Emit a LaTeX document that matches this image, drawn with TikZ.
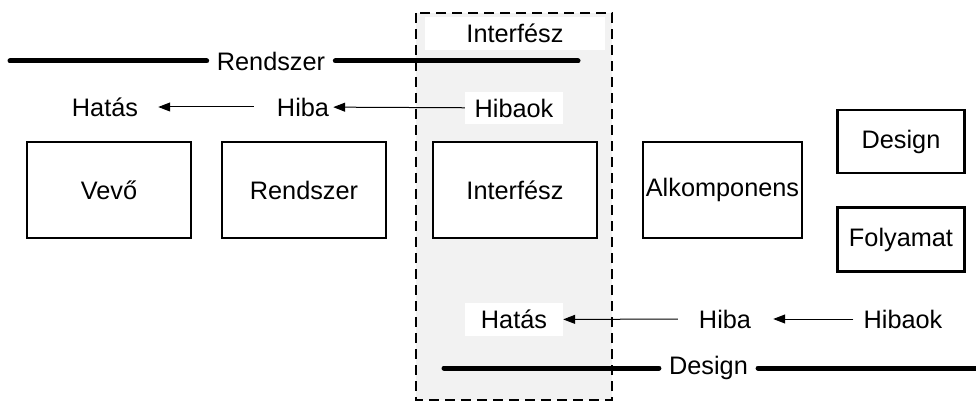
\documentclass[tikz,border=0pt]{standalone}
\usepackage{fontspec}
\setmainfont{Liberation Sans}
\usetikzlibrary{arrows.meta}
\begin{document}
\begin{tikzpicture}[x=1pt,y=-1pt,
  every node/.style={font=\fontsize{25.3}{28}\selectfont, inner sep=0pt},
  box/.style={draw, fill=white, line width=2.4pt, anchor=center},
  lbl/.style={},
  wlbl/.style={fill=white, anchor=center},
  heavy/.style={line width=5pt, line cap=round},
  arr/.style={line width=1pt, -{Triangle[length=12pt,width=9pt]}},
  region/.style={draw, fill=gray!10, line width=2.6pt, dash pattern=on 10pt off 6pt}
]
\useasboundingbox (0,0) rectangle (976,403);
% dashed interface region
\draw[region] (416,13) rectangle (612,400);
\node[wlbl, minimum width=180pt, minimum height=33pt] (itop) at (515,33.5) {Interfész};

% Rendszer line
\coordinate (rs1) at (10,61);
\coordinate (rs2) at (578,61);
\node[lbl, inner xsep=10pt] (rlab) at (271,61) {Rendszer};
\draw[heavy] (rs1) -- (rlab.west);
\draw[heavy] (rlab.east) -- (rs2);

% upper error chain
\node[lbl] (hatasA) at (105,107) {Hatás};
\node[lbl] (hibaA) at (303,107) {Hiba};
\node[wlbl, minimum width=98pt, minimum height=32pt] (hibaokA) at (514,108) {Hibaok};
\draw[arr, shorten <=23pt, shorten >=20pt] (hibaA) -- (hatasA);
\draw[arr, shorten >=4pt] (hibaokA) -- (hibaA);

% main boxes
\node[box, minimum width=164pt, minimum height=96pt] (vevo) at (109,190) {Vevő};
\node[box, minimum width=164pt, minimum height=96pt] (rendszer) at (304,190) {Rendszer};
\node[box, minimum width=164pt, minimum height=96pt] (interfesz) at (515,190) {Interfész};
\node[box, minimum width=159pt, minimum height=96pt] (alkomp) at (722.5,190) {Alkomponens};
\node[box, minimum width=127pt, minimum height=63pt] (design) at (901,141.5) {Design};
\node[box, minimum width=127pt, minimum height=64pt] (folyamat) at (901,239.5) {Folyamat};

% lower error chain
\node[wlbl, minimum width=98pt, minimum height=33pt] (hatasB) at (514,319.5) {Hatás};
\node[lbl] (hibaB) at (725,319) {Hiba};
\node[lbl] (hibaokB) at (903,319) {Hibaok};
\draw[arr, shorten <=21pt] (hibaB) -- (hatasB);
\draw[arr, shorten <=10pt, shorten >=22pt] (hibaokB) -- (hibaB);

% Design line
\coordinate (ds1) at (444,368);
\coordinate (ds2) at (980,368);
\node[lbl, inner xsep=10pt] (dlab) at (708.5,368) {Design};
\draw[heavy] (ds1) -- (dlab.west);
\draw[heavy] (dlab.east) -- (ds2);
\end{tikzpicture}
\end{document}
